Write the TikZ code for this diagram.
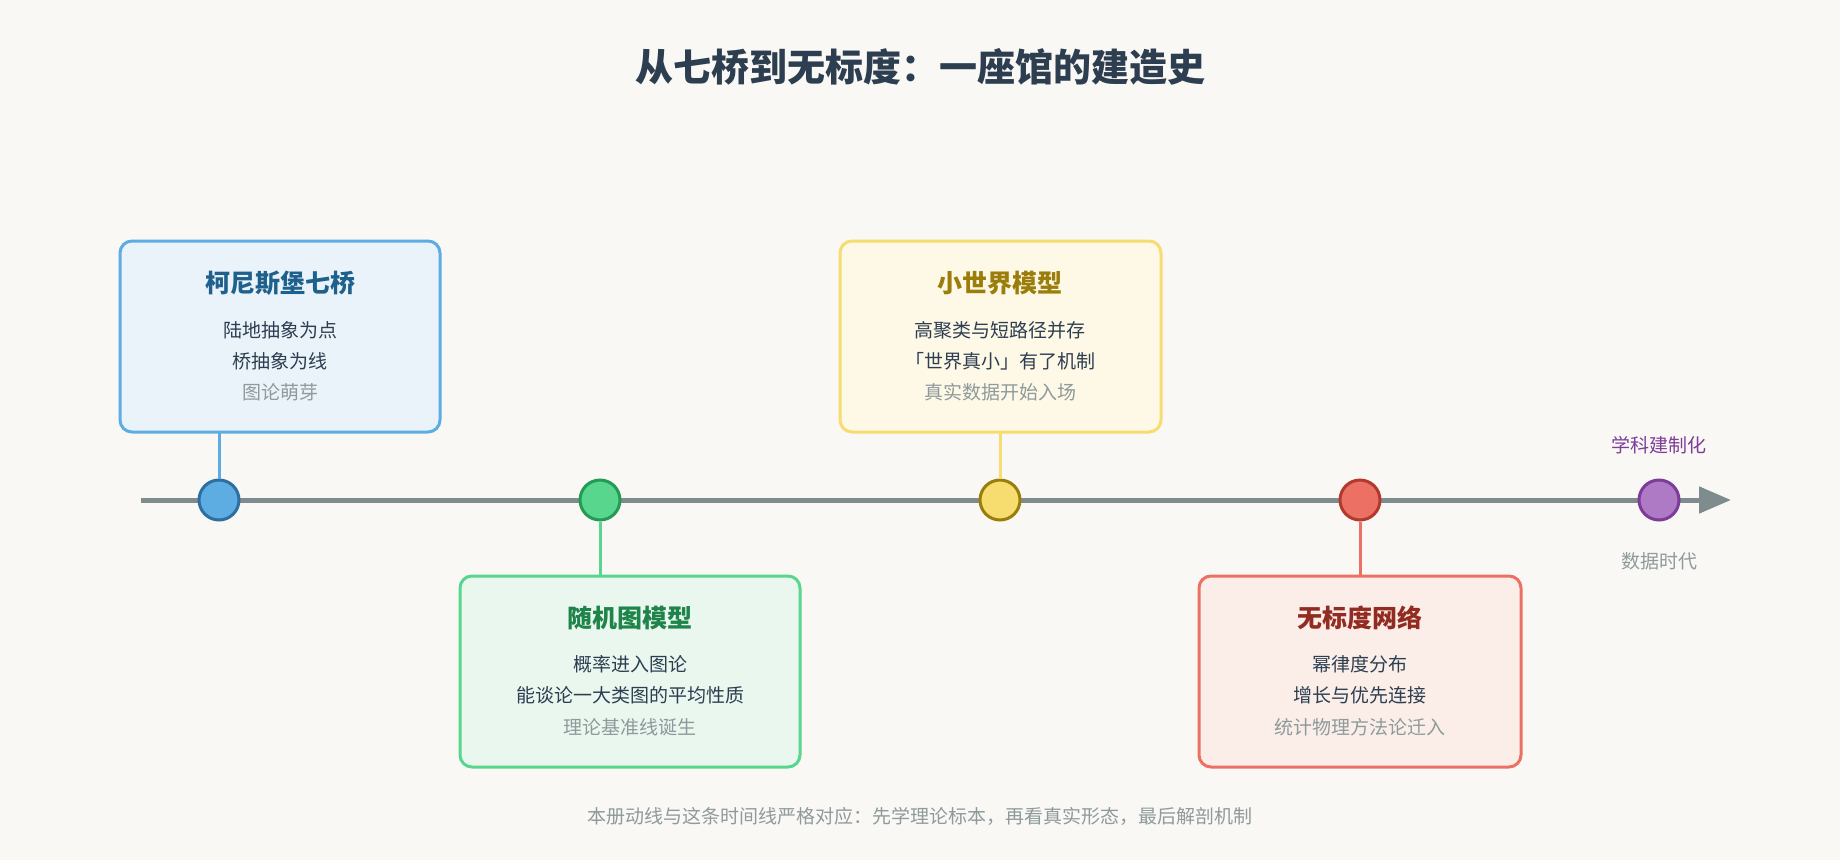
\documentclass[tikz,border=0pt]{standalone}
\usepackage{fontspec}
\setmainfont{Noto Sans CJK SC}
\usetikzlibrary{arrows.meta}
\definecolor{bg}{HTML}{F9F8F4}
\definecolor{axis}{HTML}{7F8C8D}
\definecolor{dark}{HTML}{2C3E50}
\definecolor{muted}{HTML}{8E9A9B}
\definecolor{bB}{HTML}{5DADE2}\definecolor{fB}{HTML}{EBF3FA}\definecolor{tB}{HTML}{1F618D}\definecolor{dB}{HTML}{2E6FA3}
\definecolor{bG}{HTML}{58D68D}\definecolor{fG}{HTML}{E9F7EF}\definecolor{tG}{HTML}{1E8449}\definecolor{dG}{HTML}{239B56}
\definecolor{bY}{HTML}{F7DC6F}\definecolor{fY}{HTML}{FEF8E7}\definecolor{tY}{HTML}{9A7D0A}\definecolor{dY}{HTML}{9A7D0A}
\definecolor{bR}{HTML}{EC7063}\definecolor{fR}{HTML}{FBEEE8}\definecolor{tR}{HTML}{922B21}\definecolor{dR}{HTML}{B03A2E}
\definecolor{bP}{HTML}{AF7AC5}\definecolor{dP}{HTML}{7D3C98}
\begin{document}
\begin{tikzpicture}[x=1pt,y=-1pt,
 box/.style={draw=#1,line width=3pt,rounded corners=12pt},
 dot/.style={circle,minimum size=40pt,inner sep=0pt,line width=3pt},
 ttl/.style={font=\fontsize{25}{30}\selectfont\bfseries},
 ln/.style={font=\fontsize{19}{23}\selectfont,text=dark},
 gr/.style={font=\fontsize{19}{23}\selectfont,text=muted}]
\fill[bg] (0,0) rectangle (1840,860);
\node[font=\fontsize{38}{44}\selectfont\bfseries,text=dark] (title) at (920,67) {从七桥到无标度：一座馆的建造史};
\draw[axis,line width=5pt,-{Triangle[length=32pt,width=26pt]}] (141,500) -- (1731,500);
% boxes
\draw[box=bB,fill=fB] (120,241) rectangle (440,432);
\draw[box=bG,fill=fG] (460,576) rectangle (800,767);
\draw[box=bY,fill=fY] (840,241) rectangle (1161,432);
\draw[box=bR,fill=fR] (1199,576) rectangle (1521,767);
\coordinate (b1) at (219,432); \coordinate (b2) at (600,576);
\coordinate (b3) at (1000,432); \coordinate (b4) at (1360,576);
\node[dot,draw=dB,fill=bB] (c1) at (219,500) {};
\node[dot,draw=dG,fill=bG] (c2) at (600,500) {};
\node[dot,draw=dY,fill=bY] (c3) at (1000,500) {};
\node[dot,draw=dR,fill=bR] (c4) at (1360,500) {};
\node[dot,draw=dP,fill=bP] (c5) at (1659,500) {};
\draw[bB,line width=3pt] (b1) -- (c1);
\draw[bG,line width=3pt] (b2) -- (c2);
\draw[bY,line width=3pt] (b3) -- (c3);
\draw[bR,line width=3pt] (b4) -- (c4);
% box 1
\node[ttl,text=tB] (t1) at (280,283) {柯尼斯堡七桥};
\node[ln] (l11) at (280,330) {陆地抽象为点};
\node[ln] (l12) at (280,361) {桥抽象为线};
\node[gr] (l13) at (280,392) {图论萌芽};
% box 2
\node[ttl,text=tG] (t2) at (630,618) {随机图模型};
\node[ln] (l21) at (630,664) {概率进入图论};
\node[ln] (l22) at (630,695) {能谈论一大类图的平均性质};
\node[gr] (l23) at (630,727) {理论基准线诞生};
% box 3
\node[ttl,text=tY] (t3) at (1000,283) {小世界模型};
\node[ln] (l31) at (1000,330) {高聚类与短路径并存};
\node[ln] (l32) at (1000,361) {「世界真小」有了机制};
\node[gr] (l33) at (1000,392) {真实数据开始入场};
% box 4
\node[ttl,text=tR] (t4) at (1360,618) {无标度网络};
\node[ln] (l41) at (1360,664) {幂律度分布};
\node[ln] (l42) at (1360,695) {增长与优先连接};
\node[gr] (l43) at (1360,727) {统计物理方法论迁入};
% purple
\node[font=\fontsize{19}{23}\selectfont,text=dP] (p1) at (1659,445) {学科建制化};
\node[gr] (p2) at (1659,561) {数据时代};
\node[font=\fontsize{19}{23}\selectfont,text=muted] (foot) at (920,816) {本册动线与这条时间线严格对应：先学理论标本，再看真实形态，最后解剖机制};
\end{tikzpicture}
\end{document}
